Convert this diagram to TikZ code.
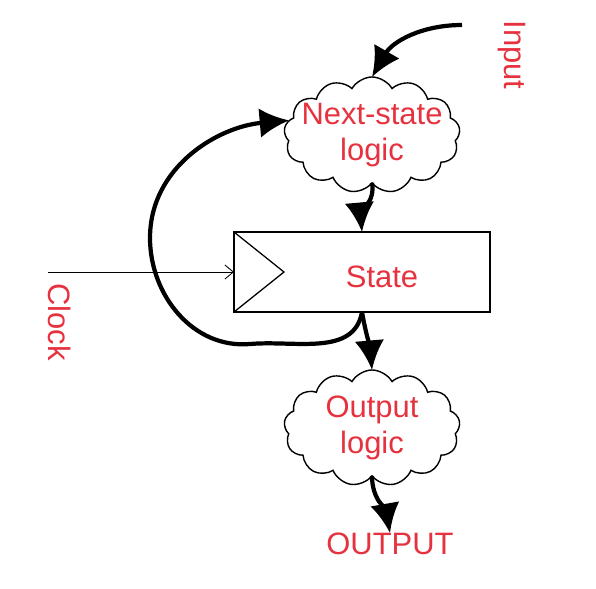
\documentclass[tikz,border=0pt]{standalone}
\usepackage{fontspec}
\setmainfont{Liberation Sans}
\usepackage{tikz}
\usetikzlibrary{positioning, shapes.symbols, arrows.meta}
\definecolor{labelred}{RGB}{230,50,62}

\begin{document}
\begin{tikzpicture}[x=0.025cm, y=-0.025cm, outer sep=0pt,
        txt/.style={text=labelred, font=\fontsize{22}{26}\selectfont, align=center, inner sep=0pt},
        logic/.style={draw, cloud, cloud puffs=13, cloud puff arc=120, aspect=1.5, line width=1pt, minimum width=4.4cm, minimum height=2.9cm, inner sep=0pt},
        flow/.style={line width=3pt, -{Latex[length=21pt, width=21pt]}}]
        \useasboundingbox (0,0) rectangle (596,588);

        % logic blocks
        \node (nsl) [logic, label={[txt]center:Next-state\\logic}] at (372,135) {};
        \node (state) [draw, rectangle, line width=0.9pt, minimum width=6.4cm, minimum height=2cm] at (362,272) {};
        \node (statelbl) [txt] at (382,277) {State};
        \node (outl) [logic, label={[txt]center:Output\\logic}] at (372,428) {};

        % clock triangle
        \draw[line width=0.9pt] (state.north west) -- ([xshift=1.25cm]state.west) -- (state.south west);

        % outer labels
        \node (inlbl) [txt, rotate=-90] at (512,55) {Input};
        \node (clklbl) [txt, rotate=-90] at (60,322) {Clock};
        \node (outtxt) [txt] at (390,544) {OUTPUT};

        \coordinate (inp) at (462,25);
        \coordinate (clk) at (48,272);
        \coordinate (fbl) at (250,344);
        \coordinate (fbm) at (150,238);

        % connectors
        \draw[flow] (inp) to[out=180, in=60] (nsl.north);
        \draw[flow] (nsl.south) to[out=-80, in=95] (state.north);
        \draw[flow] (state.south) to[out=-100, in=5] (fbl) to[out=185, in=-90] (fbm) to[out=90, in=185] (nsl.170);
        \draw[flow] (state.south) to[out=-80, in=95] (outl.north);
        \draw[flow] (outl.south) to[out=-90, in=100] (outtxt.north);
        \draw[line width=0.6pt, -{Straight Barb[length=6pt, width=10pt]}] (clk) -- (state.west);
    \end{tikzpicture}
\end{document}
